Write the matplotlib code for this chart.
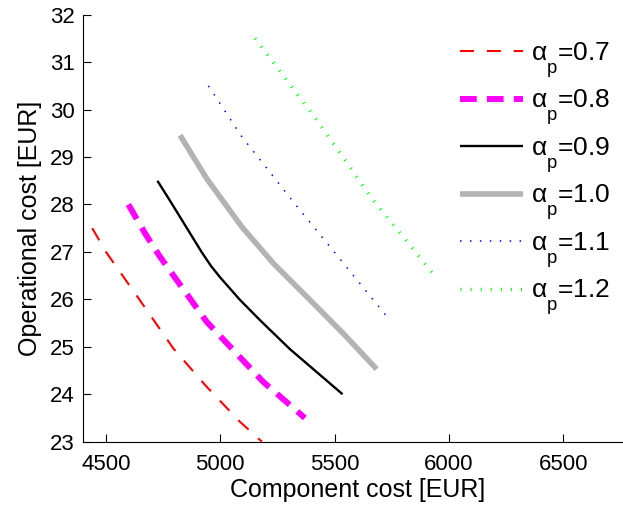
import matplotlib
matplotlib.use("Agg")
import matplotlib.pyplot as plt
import matplotlib._mathtext as _mt

plt.rcParams['font.family'] = ['Liberation Sans', 'DejaVu Sans']
plt.rcParams['mathtext.fontset'] = 'custom'
plt.rcParams['mathtext.rm'] = 'Liberation Sans'
plt.rcParams['mathtext.it'] = 'Liberation Sans'
plt.rcParams['mathtext.default'] = 'regular'
# MATLAB-style deeper subscripts
_mt.FontConstantsBase.sub1 = 0.95
_mt.FontConstantsBase.sub2 = 1.0

labels = [r'$\alpha_p$=0.7', r'$\alpha_p$=0.8', r'$\alpha_p$=0.9',
          r'$\alpha_p$=1.0', r'$\alpha_p$=1.1', r'$\alpha_p$=1.2']

x_07 = [4440, 4500, 4663, 4794, 4940, 5086, 5182]
y_07 = [27.5, 27.0, 25.88, 24.97, 24.16, 23.42, 23.0]
x_08 = [4598, 4671, 4736, 4940, 5188, 5370]
y_08 = [28.0, 27.39, 26.9, 25.53, 24.26, 23.5]
x_09 = [4725, 4780, 4918, 4960, 5000, 5086, 5174, 5305, 5535]
y_09 = [28.5, 28.08, 27.0, 26.7, 26.46, 25.99, 25.56, 24.95, 24.0]
x_10 = [4824, 4940, 5094, 5232, 5392, 5538, 5684]
y_10 = [29.46, 28.55, 27.53, 26.76, 25.99, 25.28, 24.53]
x_11 = [4948, 5094, 5312, 5735]
y_11 = [30.5, 29.43, 28.1, 25.6]
x_12 = [5152, 5262, 5422, 5669, 5929]
y_12 = [31.5, 30.8, 29.78, 28.09, 26.55]

x_ticks = [4500, 5000, 5500, 6000, 6500]
y_ticks = [23, 24, 25, 26, 27, 28, 29, 30, 31, 32]

fig = plt.figure(figsize=(6.23, 5.12), dpi=100)
ax = fig.add_axes([83.1 / 623, 70.3 / 512, 548.7 / 623, 427 / 512])

styles = [
    dict(color='#FF0000', lw=1.5, linestyle=(0, (6.7, 6.2))),
    dict(color='#FF00FF', lw=4.3, linestyle=(0, (2.8, 1.7))),
    dict(color='#000000', lw=1.7, linestyle='-'),
    dict(color='#B3B3B3', lw=4.0, linestyle='-'),
    dict(color='#0000FF', lw=1.1, linestyle=(0, (1, 5.5))),
    dict(color='#00FF00', lw=2.5, linestyle=(0, (0.3, 2.6))),
]
series = [(x_07, y_07), (x_08, y_08), (x_09, y_09), (x_10, y_10), (x_11, y_11), (x_12, y_12)]
for (xs, ys), st, lab in zip(series, styles, labels):
    ax.plot(xs, ys, label=lab, dash_capstyle='butt', solid_capstyle='butt', **st)

ax.set_xlim(4400, 6800)
ax.set_ylim(23, 32)
ax.set_xticks(x_ticks)
ax.set_yticks(y_ticks)
ax.tick_params(direction='in', length=6, width=0.8, labelsize=16)
ax.tick_params(axis='x', pad=9)
ax.tick_params(axis='y', pad=6)
ax.spines['top'].set_visible(False)
ax.spines['right'].set_visible(False)
ax.set_xlabel('Component cost [EUR]', fontsize=18, labelpad=2)
ax.set_ylabel('Operational cost [EUR]', fontsize=18, labelpad=6)

leg = fig.legend(loc='upper left', bbox_to_anchor=(449 / 623, 1 - 29.5 / 512),
                 frameon=False, fontsize=19, handlelength=2.4, handletextpad=0.3,
                 labelspacing=0.29, borderaxespad=0)

fig.savefig('out.png', dpi=100)
